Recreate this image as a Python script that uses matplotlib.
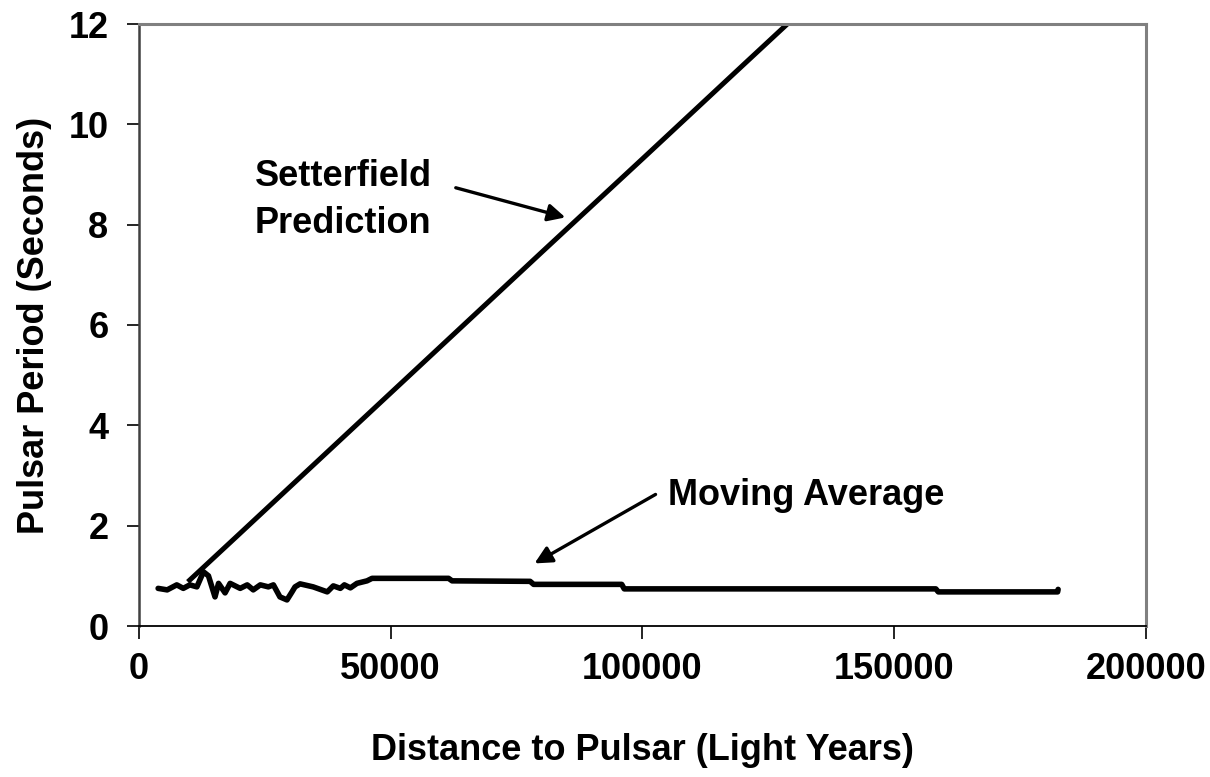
import matplotlib
matplotlib.use("Agg")
from matplotlib import pyplot as plt

plt.rcParams['font.family'] = ['Liberation Sans', 'DejaVu Sans']
plt.rcParams['font.weight'] = 'bold'

# Setterfield prediction (light years, seconds)
pred_x = [9700, 20000, 40000, 60000, 80000, 100000, 120000, 128800]
pred_y = [0.88, 1.84, 3.71, 5.58, 7.45, 9.31, 11.18, 12.0]

# moving average of observed periods
avg_x = [3800, 5600, 7500, 8800, 10100, 11500, 12800, 13800, 15100, 15800,
         17100, 18100, 20100, 21500, 22700, 24100, 25700, 26700, 28000, 29400,
         30400, 31000, 32000, 34600, 37400, 38600, 40000, 40800, 42000, 43300,
         45300, 46300, 61500, 62200, 77700, 78400, 95900, 96400, 158300, 158800,
         182500, 182600]
avg_y = [0.75, 0.72, 0.82, 0.75, 0.82, 0.78, 1.08, 1.00, 0.58, 0.85,
         0.66, 0.85, 0.75, 0.82, 0.72, 0.82, 0.78, 0.82, 0.58, 0.52,
         0.68, 0.78, 0.84, 0.78, 0.68, 0.80, 0.75, 0.82, 0.76, 0.85,
         0.90, 0.95, 0.95, 0.90, 0.89, 0.83, 0.83, 0.74, 0.74, 0.68,
         0.68, 0.73]

xticks = [0, 50000, 100000, 150000, 200000]
yticks = [0, 2, 4, 6, 8, 10, 12]

fig = plt.figure(figsize=(12.1, 7.77), dpi=100)
ax = fig.add_axes([139/1210, 1-626/777, 1006.7/1210, 602/777])

ax.plot(pred_x, pred_y, color='black', lw=3.6, solid_capstyle='butt')
ax.plot(avg_x, avg_y, color='black', lw=4.0, solid_joinstyle='round', solid_capstyle='round')

ax.set_xlim(0, 200000)
ax.set_ylim(0, 12)
ax.set_xticks(xticks)
ax.set_yticks(yticks)
ax.set_xticklabels([str(v) for v in xticks])
ax.set_yticklabels([str(v) for v in yticks])
ax.tick_params(axis='both', direction='out', length=9, width=1.2, labelsize=26, color='black')
ax.tick_params(axis='y', pad=13)
ax.tick_params(axis='x', pad=10)

for s in ['top', 'right']:
    ax.spines[s].set_color('#808080')
    ax.spines[s].set_linewidth(2.2)
ax.spines['left'].set_color('#404040')
ax.spines['left'].set_linewidth(1.8)
ax.spines['bottom'].set_color('black')
ax.spines['bottom'].set_linewidth(1.3)

ax.set_xlabel('Distance to Pulsar (Light Years)', fontsize=26, fontweight='bold', labelpad=33)
ax.set_ylabel('Pulsar Period (Seconds)', fontsize=26, fontweight='bold', labelpad=12)

ax.text(23050, 8.5, 'Setterfield\nPrediction', fontsize=26, fontweight='bold',
        ha='left', va='center', linespacing=1.45)
ax.annotate('', xy=(85240, 8.13), xytext=(62400, 8.75),
            arrowprops=dict(arrowstyle='-|>', color='black', lw=2.4, mutation_scale=26))

ax.text(105000, 2.6, 'Moving Average', fontsize=26, fontweight='bold', ha='left', va='center')
ax.annotate('', xy=(78100, 1.22), xytext=(103100, 2.65),
            arrowprops=dict(arrowstyle='-|>', color='black', lw=2.4, mutation_scale=26))

fig.savefig('out.png', dpi=100)
